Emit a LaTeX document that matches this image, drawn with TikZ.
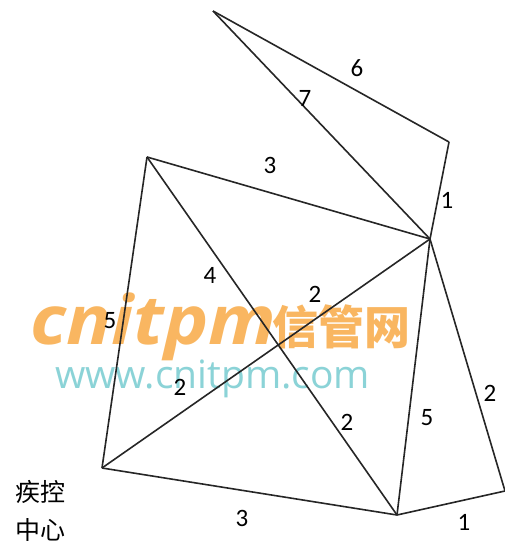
\documentclass[tikz,border=0pt]{standalone}
\usepackage{fontspec}
\setmainfont{Carlito}
\newfontfamily\cjk{Noto Sans CJK SC}
\newfontfamily\wmfont{Open Sans}
\definecolor{wmor}{RGB}{248,170,70}
\definecolor{wmte}{RGB}{110,200,205}
\begin{document}
\begin{tikzpicture}[x=1pt,y=-1pt,
  edge/.style={line width=1.6pt,black!85},
  lbl/.style={font=\fontsize{25}{25}\selectfont,inner sep=0pt},
  wmorange/.style={inner sep=0pt,text=wmor,opacity=0.85},
  wmteal/.style={inner sep=0pt,text=wmte,opacity=0.8}]
\fill[white] (0,0) rectangle (505,548);
\useasboundingbox (0,0) rectangle (505,548);
% watermark
\node[wmorange,anchor=west,xscale=1.1,font=\wmfont\bfseries\itshape\fontsize{68}{68}\selectfont] (wm1) at (30,327) {cnitpm};
\node[wmorange,anchor=west,font=\cjk\bfseries\fontsize{46}{46}\selectfont] (wm2) at (272,327) {信管网};
\node[wmteal,anchor=west,font=\wmfont\fontsize{39}{39}\selectfont] (wm3) at (55,379) {www.cnitpm.com};
% vertices
\coordinate (A) at (213,11);
\coordinate (B) at (449,142);
\coordinate (C) at (430,239);
\coordinate (D) at (147,157);
\coordinate (E) at (102,468);
\coordinate (F) at (397,515);
\coordinate (G) at (505,491);
% edges
\draw[edge] (A) -- (B);
\draw[edge] (A) -- (C);
\draw[edge] (B) -- (C);
\draw[edge] (D) -- (C);
\draw[edge] (D) -- (F);
\draw[edge] (D) -- (E);
\draw[edge] (E) -- (C);
\draw[edge] (E) -- (F);
\draw[edge] (C) -- (F);
\draw[edge] (C) -- (G);
\draw[edge] (F) -- (G);
% labels
\node[lbl] (l1) at (357,68) {6};
\node[lbl] (l2) at (305,98) {7};
\node[lbl] (l3) at (447,200) {1};
\node[lbl] (l4) at (270,165) {3};
\node[lbl] (l5) at (210,275) {4};
\node[lbl] (l6) at (315,294) {2};
\node[lbl] (l7) at (110,321) {5};
\node[lbl] (l8) at (180,387) {2};
\node[lbl] (l9) at (347,422) {2};
\node[lbl] (l10) at (427,418) {5};
\node[lbl] (l11) at (490,393) {2};
\node[lbl] (l12) at (242,518) {3};
\node[lbl] (l13) at (464,522) {1};
\node[font=\cjk\fontsize{25}{25}\selectfont,inner sep=0pt] (t1) at (40,492) {疾控};
\node[font=\cjk\fontsize{25}{25}\selectfont,inner sep=0pt] (t2) at (40,530) {中心};
\end{tikzpicture}
\end{document}
